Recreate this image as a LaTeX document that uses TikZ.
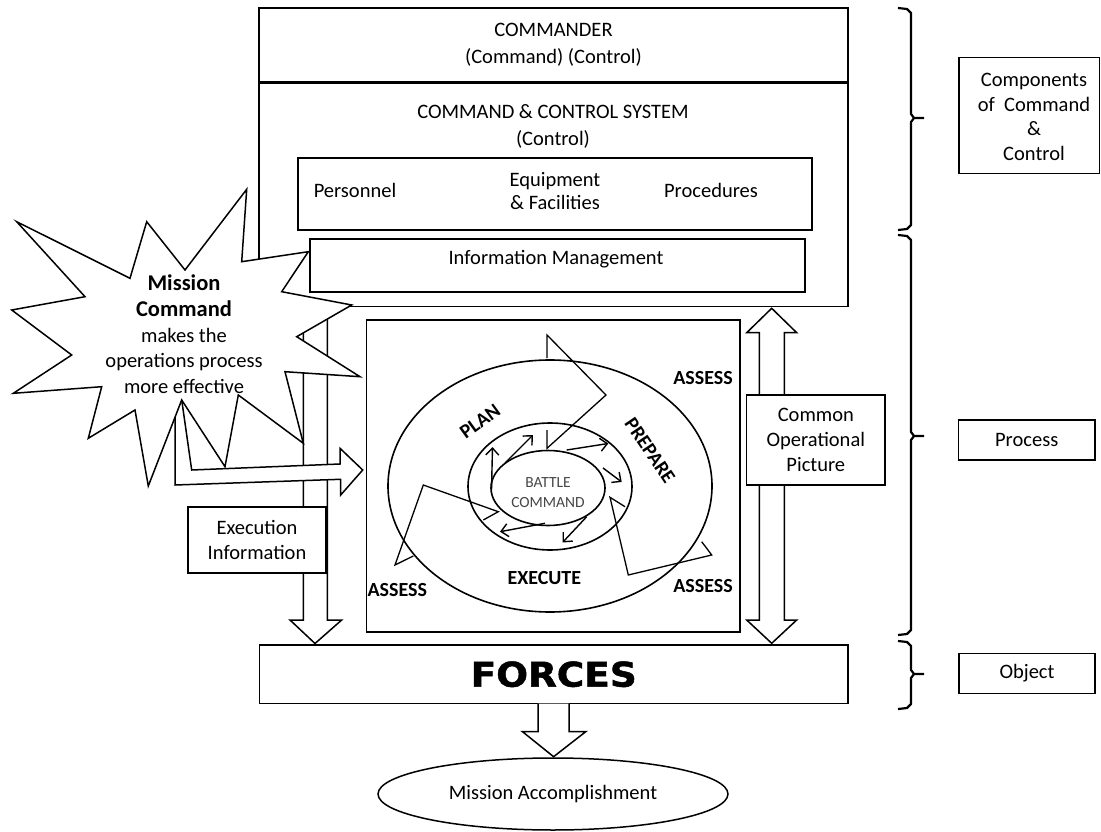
\documentclass[tikz,border=0pt]{standalone}
\usepackage{fontspec}
\setmainfont{Carlito}
\newfontfamily\forcesfont{DejaVu Sans Bold}[FakeStretch=1.1, FakeBold=1.5]
\usetikzlibrary{arrows.meta, shapes.geometric}
\newcommand\fs[1]{\fontsize{20.5}{#1}\selectfont}
\newcommand\mybrace[3]{%
  \draw[bracestyle] (898,#1) -- (907,{#1+1}) -- (911,{#1+5}) -- (911,{#2-4}) -- (914,#2) -- (924,#2);
  \draw[bracestyle] (914,#2) -- (911,{#2+4}) -- (911,{#3-5}) -- (907,{#3-1}) -- (898,#3);}
\begin{document}
\begin{tikzpicture}[x=1pt, y=-1pt,
  box/.style={draw, line width=1.5pt, fill=white, rectangle, inner sep=0pt, outer sep=0pt, align=center, font=\fs{25}},
  txt/.style={inner sep=0pt, outer sep=0pt, align=center, font=\fs{25}},
  hollow/.style={draw, line width=1.5pt, fill=white, line join=miter},
  zig/.style={line width=1.3pt, line join=miter},
  sarr/.style={line width=1.4pt, -{Straight Barb[length=7pt,width=13pt]}},
  bracestyle/.style={line width=2.2pt, line join=round},
  lbl/.style={inner sep=0pt, font=\fontsize{20}{24}\selectfont\bfseries},
  ell/.style={draw, ellipse, line width=1.6pt, inner sep=0pt, outer sep=0pt, font=\fs{25}}]
\useasboundingbox (0,0) rectangle (1101,832);

% ---- C2 system and commander
\node[box, minimum width=589pt, minimum height=223pt] (ccs) at (553.5,195) {};
\node[txt, font=\fs{27}] (ccst) at (553,126.5) {COMMAND \& CONTROL SYSTEM\\(Control)};
\node[box, minimum width=589pt, minimum height=74pt, font=\fs{26.6}] (cmdr) at (553.5,45) {COMMANDER\\(Command) (Control)};

\node[box, minimum width=514pt, minimum height=72pt] (ppl) at (555,194) {};
\node[txt] (pers) at (355,190) {Personnel};
\node[txt, font=\fs{23.4}] (equip) at (555,191) {Equipment\\\& Facilities};
\node[txt] (proc) at (711,190) {Procedures};

\node[box, minimum width=495pt, minimum height=53pt] (im) at (557.5,265.5) {};
\node[txt] (imt) at (556,259.5) {Information Management};

% ---- forces and mission accomplishment
\node[box, minimum width=588.5pt, minimum height=58.5pt, font=\forcesfont\fontsize{34}{40}\selectfont] (forces) at (553.75,674.25) {FORCES};
\node[ell, line width=1.5pt, minimum width=350pt, minimum height=72pt] (ma) at (553,794) {Mission Accomplishment};
\coordinate (maTop) at (553.6,756.7);
\draw[hollow] (forces.south -| 538,0) -- (538,731.7) -- (522.5,731.7) -- (maTop) -- (585.7,731.7) -- (569,731.7) -- (forces.south -| 569,0);

% ---- execution information arrow (down)
\coordinate (eiTip) at (315,643.5);
\draw[hollow] (ccs.south -| 303.3,0) -- (303.3,620) -- (290,620) -- (eiTip) -- (341.7,620) -- (327.3,620) -- (ccs.south -| 327.3,0);

% ---- common operational picture double arrow
\coordinate (copTop) at (771.7,308.3);
\coordinate (copBot) at (771.7,643.3);
\draw[hollow] (copTop) -- (796.7,332.7) -- (784.3,332.7) -- (784.3,620) -- (796.7,620) -- (copBot)
  -- (746.7,620) -- (759.3,620) -- (759.3,332.7) -- (746.7,332.7) -- cycle;
\node[box, minimum width=138.3pt, minimum height=90pt, font=\fs{24.7}] (cop) at (815.8,440) {Common\\Operational\\Picture};

% ---- mission command bent arrow
\coordinate (mcTip) at (362.7,470);
\draw[hollow] (175,395) -- (175,485) -- (340.5,479.3) -- (340.7,495) -- (mcTip) -- (340,448.3) -- (340,464) -- (191.7,470) -- (181,395) -- cycle;

% ---- starburst
\draw[hollow] (16.7,221.7) -- (130,278.3) -- (146.7,221.7) -- (185,270) -- (246.7,189.3) -- (241.7,261.7)
  -- (308.3,251.7) -- (281.7,291.7) -- (351.7,305) -- (296.7,336.7) -- (360,376.7) -- (285,371.7)
  -- (303.3,443.3) -- (238.3,395) -- (225,466.7) -- (181.7,400) -- (148.3,486) -- (135,410)
  -- (88.3,438.3) -- (101.7,386.7) -- (13.3,393.3) -- (71.7,355) -- (11.7,310) -- (85,296.7) -- cycle;
\node[txt, font=\fs{25.8}] (mc) at (184,334.3) {{\fontsize{22.5}{25.8}\selectfont\bfseries Mission}\\{\fontsize{22.5}{25.8}\selectfont\bfseries Command}\\makes the\\operations process\\more effective};

\node[box, minimum width=138pt, minimum height=66pt] (exec) at (257,540) {Execution\\Information};

% ---- process box
\node[box, minimum width=373.5pt, minimum height=312pt] (pbox) at (553.25,476) {};
\node[ell, minimum width=324pt, minimum height=252pt] (outer) at (550,486) {};
\node[ell, minimum width=164pt, minimum height=127pt] (middle) at (550,486.5) {};
\node[ell, minimum width=114pt, minimum height=75pt] (inner) at (548,488) {};
\node[inner sep=0pt, align=center, text=black!72, font=\fontsize{15.5}{20}\selectfont] (bct) at (548,493) {BATTLE\\COMMAND};

% zig-zag chevrons
\draw[zig] (547,358) -- (547,335) -- (606,395) -- (547,448.3) -- (547,430);
\draw[zig] (483.3,520) -- (498.3,511.7) -- (423.3,485) -- (395,565) -- (413.3,556);
\draw[zig] (625,506.7) -- (610,497.3) -- (628.3,575) -- (711.7,555) -- (701.7,541.7);

% small arrows in the ring
\coordinate (a1s) at (491.5,490);   \coordinate (a1e) at (492.5,447);
\coordinate (a2s) at (505,463);     \coordinate (a2e) at (533,435);
\coordinate (a3s) at (566.7,450);   \coordinate (a3e) at (608.3,443.5);
\coordinate (a4s) at (603,468);     \coordinate (a4e) at (621.7,482);
\coordinate (a5s) at (586.7,516.7); \coordinate (a5e) at (562.5,542.5);
\coordinate (a6s) at (545,523.3);   \coordinate (a6e) at (500,531.7);
\foreach \i in {1,...,6} { \draw[sarr] (a\i s) -- (a\i e); }

\node[lbl] (as1) at (703,378) {ASSESS};
\node[lbl] (as2) at (703,586) {ASSESS};
\node[lbl] (as3) at (397.3,590) {ASSESS};
\node[lbl] (exe) at (544.3,577.7) {EXECUTE};
\node[lbl, rotate=36] (plan) at (480,421.7) {PLAN};
\node[lbl, rotate=-56] (prep) at (650,450.7) {PREPARE};

% ---- braces and right labels
\mybrace{8}{118}{230}
\mybrace{235}{436}{635}
\mybrace{641}{674}{709}
\node[box, minimum width=140.5pt, minimum height=115.6pt] (compbox) at (1029.3,115.5) {};
\node[txt, font=\fs{24.7}] (comp) at (1034,117) {Components\\of\ \ Command\\\&\\Control};
\node[box, minimum width=136.7pt, minimum height=40pt] (procbox) at (1026.7,440) {Process};
\node[box, minimum width=136pt, minimum height=40pt] (objbox) at (1027,673.3) {Object};
\end{tikzpicture}
\end{document}
